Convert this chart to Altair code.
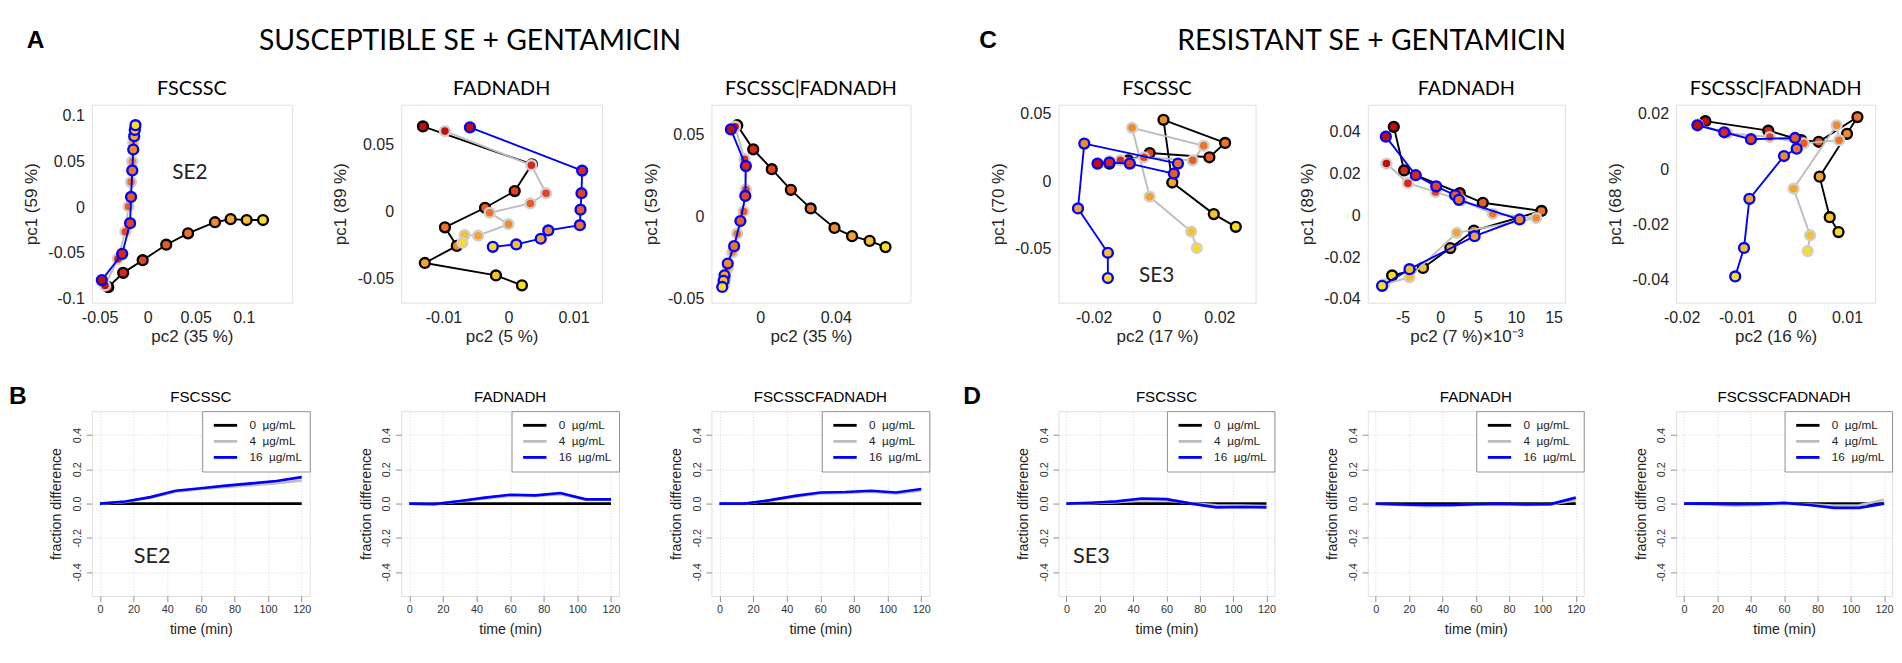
import altair as alt
import pandas as pd

# ---------------- data ----------------
TIMES = [0, 15, 30, 45, 60, 75, 90, 105, 120]
DOSES = ["0\u00a0 µg/mL", "4\u00a0 µg/mL", "16\u00a0 µg/mL"]

# Susceptible SE2, FSCSSC (pc2 = x, pc1 = y)
A1_X0 = [-0.041, -0.0255, -0.0052, 0.0193, 0.042, 0.070, 0.0863, 0.103, 0.120]
A1_Y0 = [-0.087, -0.0714, -0.0576, -0.0407, -0.0283, -0.0162, -0.0128, -0.0138, -0.0138]
A1_X4 = [-0.0444, -0.031, -0.0232, -0.0199, -0.0173, -0.016, -0.015, -0.014, -0.0134]
A1_Y4 = [-0.0852, -0.0562, -0.0266, 0.001, 0.0276, 0.050, 0.0707, 0.0793, 0.0845]
A1_X16 = [-0.0477, -0.0265, -0.0183, -0.0173, -0.016, -0.015, -0.014, -0.0134, -0.0127]
A1_Y16 = [-0.0793, -0.0507, -0.0172, 0.0114, 0.0403, 0.0631, 0.0776, 0.0845, 0.0897]

# Susceptible SE2, FADNADH
A2_X0 = [-0.01316, 0.00361, 0.00096, -0.00361, -0.00978, -0.00795, -0.01287, -0.00193, 0.00207]
A2_Y0 = [0.0634, 0.0353, 0.0154, 0.0030, -0.0115, -0.0253, -0.0380, -0.0472, -0.0546]
A2_X4 = [-0.00978, 0.00352, 0.00578, 0.00337, -0.00289, 0.0, -0.00467, -0.00675, -0.00708]
A2_Y4 = [0.0599, 0.0346, 0.0138, 0.0062, -0.0007, -0.0092, -0.0177, -0.0173, -0.0230]
A2_X16 = [-0.00593, 0.01133, 0.01123, 0.01108, 0.01099, 0.00612, 0.00496, 0.0012, -0.00241]
A2_Y16 = [0.0627, 0.0306, 0.0138, 0.0016, -0.0099, -0.0138, -0.0200, -0.0242, -0.0260]

# Susceptible SE2, FSCSSC|FADNADH
A3_X0 = [-0.01215, -0.0037, 0.0061, 0.0162, 0.0267, 0.0393, 0.0486, 0.0579, 0.0663]
A3_Y0 = [0.0559, 0.0412, 0.0291, 0.0165, 0.0052, -0.0067, -0.0117, -0.0146, -0.0184]
A3_X4 = [-0.0133, -0.0083, -0.0076, -0.0088, -0.0122, -0.0147, -0.0172, -0.0184, -0.0189]
A3_Y4 = [0.0550, 0.0352, 0.0167, 0.0033, -0.0102, -0.0216, -0.0312, -0.0370, -0.0408]
A3_X16 = [-0.01553, -0.0076, -0.0079, -0.0105, -0.0138, -0.0172, -0.0189, -0.0194, -0.0201]
A3_Y16 = [0.0534, 0.0310, 0.0128, -0.0025, -0.0178, -0.0284, -0.0356, -0.0389, -0.0427]

# Resistant SE3, FSCSSC
C1_X0 = [-0.015, -0.009, -0.0022, 0.0168, 0.0218, 0.0022, 0.005, 0.0182, 0.0252]
C1_Y0 = [0.0133, 0.0157, 0.0211, 0.0180, 0.0286, 0.0457, -0.0007, -0.0241, -0.0335]
C1_X4 = [-0.015, -0.0115, -0.004, 0.0115, 0.015, -0.0078, -0.0022, 0.011, 0.0128]
C1_Y4 = [0.0152, 0.0157, 0.018, 0.0157, 0.0265, 0.0398, -0.0112, -0.037, -0.0492]
C1_X16 = [-0.0188, -0.015, -0.0085, 0.0055, 0.0068, -0.023, -0.025, -0.0155, -0.0155]
C1_Y16 = [0.0133, 0.0141, 0.0133, 0.0059, 0.0133, 0.0281, -0.0199, -0.0527, -0.0714]

# Resistant SE3, FADNADH (pc2 in units of 1e-3)
C2_X0 = [-6.16, -4.79, 2.58, 5.63, 13.4, 4.46, 1.33, -2.29, -6.38]
C2_Y0 = [0.0426, 0.0217, 0.0108, 0.0062, 0.0023, -0.0071, -0.0155, -0.025, -0.0286]
C2_X4 = [-7.13, -4.29, -0.63, 2.79, 6.96, 12.7, 2.17, -4.08, -7.42]
C2_Y4 = [0.025, 0.0156, 0.0114, 0.0073, 0.0009, -0.0011, -0.0082, -0.0295, -0.0329]
C2_X16 = [-7.21, -3.25, -0.54, 1.96, 2.46, 10.5, 4.54, -4.08, -7.71]
C2_Y16 = [0.0379, 0.0194, 0.0141, 0.0098, 0.0076, -0.0018, -0.0098, -0.0256, -0.0336]

# Resistant SE3, FSCSSC|FADNADH
C3_X0 = [-0.01571, -0.00429, 0.00171, 0.00486, 0.01189, 0.0100, 0.00503, 0.00686, 0.00846]
C3_Y0 = [0.01744, 0.0140, 0.01055, 0.00998, 0.01893, 0.01285, -0.00264, -0.01732, -0.02271]
C3_X4 = [-0.01714, -0.01171, -0.0040, 0.00217, 0.00857, 0.00811, 0.00029, 0.00331, 0.00286]
C3_Y4 = [0.01629, 0.01308, 0.0117, 0.00941, 0.01055, 0.01595, -0.0070, -0.02386, -0.0296]
C3_X16 = [-0.01714, -0.01229, -0.00743, 0.00057, 0.00086, -0.00143, -0.00771, -0.00869, -0.01029]
C3_Y16 = [0.01595, 0.01342, 0.0109, 0.01136, 0.00746, 0.00482, -0.01067, -0.02845, -0.03877]

# fraction difference vs time
ZERO = [0, 0, 0, 0, 0, 0, 0, 0, 0]
B1_4 = [0, 0.010, 0.035, 0.070, 0.085, 0.098, 0.108, 0.120, 0.135]
B1_16 = [0, 0.012, 0.038, 0.075, 0.090, 0.105, 0.118, 0.132, 0.155]
B2_4 = [0, -0.002, 0.012, 0.030, 0.045, 0.045, 0.055, 0.025, 0.022]
B2_16 = [0, -0.003, 0.015, 0.035, 0.052, 0.048, 0.062, 0.025, 0.025]
B3_4 = [0, 0.0, 0.018, 0.040, 0.060, 0.062, 0.070, 0.060, 0.075]
B3_16 = [0, 0.0, 0.020, 0.045, 0.065, 0.068, 0.075, 0.065, 0.085]
D1_4 = [0, 0.003, 0.008, 0.018, 0.018, 0.002, -0.010, -0.012, -0.015]
D1_16 = [0, 0.005, 0.013, 0.030, 0.026, 0.0, -0.022, -0.020, -0.022]
D2_4 = [0, -0.008, -0.015, -0.012, -0.006, -0.005, -0.008, -0.005, 0.020]
D2_16 = [0, -0.005, -0.008, -0.008, -0.004, 0.0, -0.005, -0.003, 0.035]
D3_4 = [0, -0.005, -0.012, -0.008, 0.0, -0.005, -0.012, -0.010, 0.022]
D3_16 = [0, 0.0, -0.003, -0.002, 0.004, -0.008, -0.025, -0.025, 0.0]

# ---------------- styles ----------------
FILL_RANGE = ["#c30d0d", "#d9261a", "#e2441f", "#e85c24", "#ec7428",
              "#f08b2c", "#f4a32f", "#f7bf2e", "#f9dc24"]
PATH_LINE = ["#000000", "#bdbdbd", "#0000ff"]
PATH_EDGE = ["#000000", "#cfcfcf", "#0000ff"]
LINE_COLORS = ["#000000", "#bdbdbd", "#0000ff"]
MINUS_G = "replace(format(datum.value, '~g'), '\u2212', '-')"
MINUS_1F = "replace(format(datum.value, '.1f'), '\u2212', '-')"

fill_scale = alt.Scale(domain=TIMES, range=FILL_RANGE)

TOP_AXIS = dict(labelFont="Liberation Sans", labelFontSize=17, labelColor="#262626",
                titleFont="Liberation Sans", titleFontSize=18, titleColor="#262626",
                titleFontWeight="normal", ticks=False, tickSize=0, domain=False,
                grid=False, labelFlush=False, labelOverlap=False)
BOT_AXIS = dict(labelFont="Liberation Sans", labelFontSize=11.5, labelColor="#333333",
                titleFont="Liberation Sans", titleFontSize=15, titleColor="#222222",
                titleFontWeight="normal", ticks=True, tickSize=6, tickColor="#8a8a8a",
                domain=False, grid=True, gridColor="#d4d4d4", gridDash=[1, 2],
                labelFlush=False, labelOverlap=False)


def pixel_text(label, x, y, size, font="Lato", weight="normal", align="left"):
    return alt.Chart(pd.DataFrame({"label": [label]})).mark_text(
        font=font, fontSize=size, fontWeight=weight, align=align, baseline="top",
        color="black").encode(x=alt.value(x), y=alt.value(y), text="label:N")


def pc_panel(title, series, xdom, ydom, xticks, yticks, xtitle, ytitle, w, annot=None):
    X = alt.X("x:Q", scale=alt.Scale(domain=xdom, nice=False, zero=False),
              axis=alt.Axis(values=xticks, title=xtitle, labelExpr=MINUS_G,
                            labelPadding=8, titlePadding=3, **TOP_AXIS))
    Y = alt.Y("y:Q", scale=alt.Scale(domain=ydom, nice=False, zero=False),
              axis=alt.Axis(values=yticks, title=ytitle, labelExpr=MINUS_G,
                            labelPadding=8, titlePadding=8, **TOP_AXIS))
    layers = []
    for (xs, ys), lc, ec in zip(series, PATH_LINE, PATH_EDGE):
        df = pd.DataFrame({"x": xs, "y": ys, "t": TIMES})
        base = alt.Chart(df)
        layers.append(base.mark_line(color=lc, strokeWidth=2).encode(
            x=X, y=Y, order=alt.Order("t:Q")))
        layers.append(base.mark_circle(size=110, stroke=ec, strokeWidth=2.5,
                                       opacity=1).encode(
            x=X, y=Y, fill=alt.Fill("t:O", scale=fill_scale, legend=None)))
    if annot is not None:
        ax, ay, at = annot
        layers.append(alt.Chart(pd.DataFrame({"x": [ax], "y": [ay], "label": [at]}))
                      .mark_text(font="Lato", fontSize=22, color="#222222")
                      .encode(x=X, y=Y, text="label:N"))
    return alt.layer(*layers).properties(
        width=w, height=210,
        title=alt.TitleParams(title, font="Lato", fontSize=21, fontWeight="normal",
                              color="black", offset=6, anchor="middle"))


def frac_panel(title, v4, v16, w, annot=None):
    rows = []
    for name, vals in zip(DOSES, (ZERO, v4, v16)):
        for t, v in zip(TIMES, vals):
            rows.append({"time": t, "value": v, "dose": name})
    df = pd.DataFrame(rows)
    X = alt.X("time:Q", scale=alt.Scale(domain=[-4.8, 124.8], nice=False, zero=False),
              axis=alt.Axis(values=[0, 20, 40, 60, 80, 100, 120], title="time (min)",
                            labelPadding=3, titlePadding=7, **BOT_AXIS))
    Y = alt.Y("value:Q", scale=alt.Scale(domain=[-0.54, 0.54], nice=False, zero=False),
              axis=alt.Axis(values=[-0.4, -0.2, 0, 0.2, 0.4], title="fraction difference",
                            labelExpr=MINUS_1F, labelAngle=270, labelAlign="center",
                            labelBaseline="bottom", labelPadding=4,
                            titlePadding=9, **BOT_AXIS))
    line = alt.Chart(df).mark_line(strokeWidth=2.8).encode(
        x=X, y=Y,
        color=alt.Color("dose:N", sort=DOSES,
                        scale=alt.Scale(domain=DOSES, range=LINE_COLORS),
                        legend=alt.Legend(title=None, orient="top-right", offset=0,
                                          padding=8, strokeColor="#8c8c8c",
                                          fillColor="white", cornerRadius=0,
                                          symbolType="M-0.5,0H4", symbolSize=121,
                                          symbolStrokeWidth=3,
                                          labelFont="Liberation Sans",
                                          labelFontSize=12.5, labelColor="#222222",
                                          labelOffset=28, rowPadding=3,
                                          labelLimit=200)))
    layers = [line]
    if annot is not None:
        ax, ay, at = annot
        layers.append(alt.Chart(pd.DataFrame({"time": [ax], "value": [ay], "label": [at]}))
                      .mark_text(font="Lato", fontSize=23, color="#222222")
                      .encode(x=X, y=Y, text="label:N"))
    return alt.layer(*layers).properties(
        width=w, height=196,
        title=alt.TitleParams(title, font="Liberation Sans", fontSize=16,
                              fontWeight="normal", color="black", offset=6,
                              anchor="middle"))


def spacer(w, h, texts=()):
    base = alt.Chart(pd.DataFrame({"s": [0]})).mark_point(opacity=0).encode(
        x=alt.value(0), y=alt.value(0))
    if texts:
        return alt.layer(base, *texts).properties(
            width=w, height=h, view=alt.ViewBackground(stroke="transparent"))
    return base.properties(width=w, height=h,
                           view=alt.ViewBackground(stroke="transparent"))


# ---------------- panels ----------------
A1 = pc_panel("FSCSSC", [(A1_X0, A1_Y0), (A1_X4, A1_Y4), (A1_X16, A1_Y16)],
              [-0.058, 0.15], [-0.104, 0.112], [-0.05, 0, 0.05, 0.1],
              [-0.1, -0.05, 0, 0.05, 0.1], "pc2 (35 %)", "pc1 (59 %)", 212,
              annot=(0.044, 0.038, "SE2"))
A2 = pc_panel("FADNADH", [(A2_X0, A2_Y0), (A2_X4, A2_Y4), (A2_X16, A2_Y16)],
              [-0.0165, 0.0144], [-0.0675, 0.0795], [-0.01, 0, 0.01],
              [-0.05, 0, 0.05], "pc2 (5 %)", "pc1 (89 %)", 213)
A3 = pc_panel("FSCSSC|FADNADH", [(A3_X0, A3_Y0), (A3_X4, A3_Y4), (A3_X16, A3_Y16)],
              [-0.0258, 0.0795], [-0.0523, 0.0684], [0, 0.04],
              [-0.05, 0, 0.05], "pc2 (35 %)", "pc1 (59 %)", 211)
C1 = pc_panel("FSCSSC", [(C1_X0, C1_Y0), (C1_X4, C1_Y4), (C1_X16, C1_Y16)],
              [-0.0312, 0.0315], [-0.0897, 0.0569], [-0.02, 0, 0.02],
              [-0.05, 0, 0.05], "pc2 (17 %)", "pc1 (70 %)", 209,
              annot=(0.0, -0.0696, "SE3"))
C2 = pc_panel("FADNADH", [(C2_X0, C2_Y0), (C2_X4, C2_Y4), (C2_X16, C2_Y16)],
              [-9.6, 16.5], [-0.0417, 0.0532], [-5, 0, 5, 10, 15],
              [-0.04, -0.02, 0, 0.02, 0.04], "pc2 (7 %)\u00d710\u207b\u00b3", "pc1 (89 %)", 209)
C3 = pc_panel("FSCSSC|FADNADH", [(C3_X0, C3_Y0), (C3_X4, C3_Y4), (C3_X16, C3_Y16)],
              [-0.021, 0.0151], [-0.0483, 0.0234], [-0.02, -0.01, 0, 0.01],
              [-0.04, -0.02, 0, 0.02], "pc2 (16 %)", "pc1 (68 %)", 211)

B1 = frac_panel("FSCSSC", B1_4, B1_16, 231, annot=(31, -0.31, "SE2"))
B2 = frac_panel("FADNADH", B2_4, B2_16, 231)
B3 = frac_panel("FSCSSCFADNADH", B3_4, B3_16, 231)
D1 = frac_panel("FSCSSC", D1_4, D1_16, 229, annot=(15, -0.31, "SE3"))
D2 = frac_panel("FADNADH", D2_4, D2_16, 229)
D3 = frac_panel("FSCSSCFADNADH", D3_4, D3_16, 229)

# spacers between panels; headings and panel letters live in them
SP_A = spacer(87, 210, [
    pixel_text("A", -305, -81, 26, font="Liberation Sans", weight="bold"),
    pixel_text("SUSCEPTIBLE SE + GENTAMICIN", 165, -82, 30, align="center")])
SP_C = spacer(89, 210, [
    pixel_text("C", -318, -81, 26, font="Liberation Sans", weight="bold"),
    pixel_text("RESISTANT SE + GENTAMICIN", 98, -82, 30, align="center")])
SP_B = spacer(61, 196, [
    pixel_text("B", -324, -29, 26, font="Liberation Sans", weight="bold")])
SP_D = spacer(61, 196, [
    pixel_text("D", -335, -29, 26, font="Liberation Sans", weight="bold")])

top_row = [A1, SP_A, A2, spacer(88, 210), A3, spacer(127, 210),
           C1, SP_C, C2, spacer(88, 210), C3]
bot_row = [B1, SP_B, B2, spacer(59, 196), B3, spacer(122, 196),
           D1, SP_D, D2, spacer(61, 196), D3]

chart = alt.ConcatChart(
    concat=top_row + bot_row, columns=11,
    spacing={"row": 115, "column": 5}, bounds="flush",
    align={"row": "all", "column": "none"}, padding=0,
).resolve_scale(color="independent", x="independent", y="independent"
).resolve_legend(color="independent"
).configure_view(stroke="#7f7f7f", strokeWidth=1.2
).configure(background="white")

chart.save("out.html", embed_options={"renderer": "svg", "actions": False})
